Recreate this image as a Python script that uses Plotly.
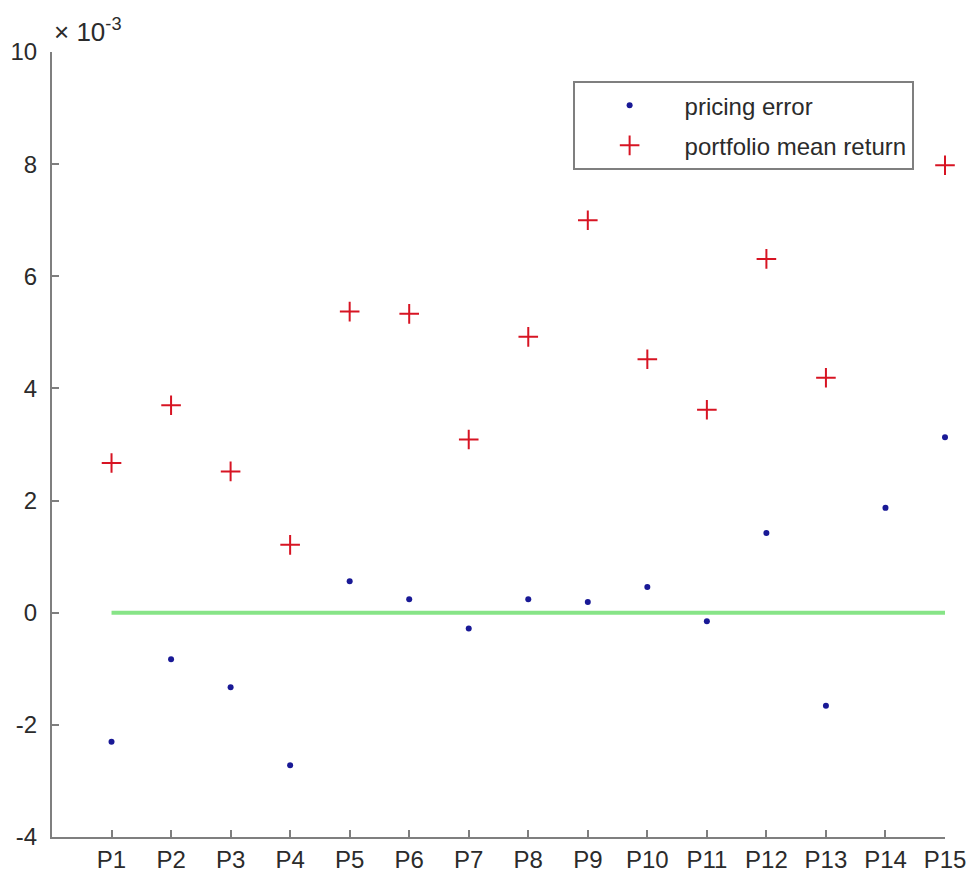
import plotly.graph_objects as go

# Portfolio labels and values (in units of 1e-3)
portfolios = ["P1", "P2", "P3", "P4", "P5", "P6", "P7", "P8",
              "P9", "P10", "P11", "P12", "P13", "P14", "P15"]
pricing_error_e3 = [-2.30, -0.83, -1.33, -2.72, 0.56, 0.24, -0.28, 0.24,
                    0.19, 0.46, -0.15, 1.42, -1.66, 1.87, 3.13]
mean_return_e3 = [2.67, 3.70, 2.52, 1.21, 5.37, 5.33, 3.09, 4.92,
                  7.00, 4.52, 3.62, 6.31, 4.19, 8.70, 7.98]
y_ticks_e3 = [-4, -2, 0, 2, 4, 6, 8, 10]

scale = 1e-3
x_pos = list(range(1, len(portfolios) + 1))
pricing_error = [v * scale for v in pricing_error_e3]
mean_return = [v * scale for v in mean_return_e3]
zero_line = [0.0 for _ in portfolios]

FONT = "Liberation Sans, Arial, sans-serif"
AXIS_GREY = "#7f7f7f"
TEXT = "#2b2b2b"

fig = go.Figure()

fig.add_trace(go.Scatter(
    x=x_pos, y=zero_line, mode="lines",
    line=dict(color="rgb(135,228,135)", width=4),
    showlegend=False, hoverinfo="skip", cliponaxis=False,
))

fig.add_trace(go.Scatter(
    x=x_pos, y=pricing_error, mode="markers", name="pricing error",
    legendgroup="a", cliponaxis=False,
    marker=dict(symbol="circle", size=6, color="rgb(25,25,150)"),
))

fig.add_trace(go.Scatter(
    x=x_pos, y=mean_return, mode="markers", name="portfolio mean return",
    legendgroup="b", cliponaxis=False,
    marker=dict(symbol="cross-thin", size=14,
                line=dict(color="rgb(215,20,35)", width=2)),
))

fig.update_layout(
    width=972, height=886,
    margin=dict(l=52, r=27, t=52, b=49, autoexpand=False),
    paper_bgcolor="white", plot_bgcolor="white",
    font=dict(family=FONT, size=24, color=TEXT),
    legend=dict(
        x=0.583, y=0.963, xanchor="left", yanchor="top",
        bgcolor="white", bordercolor=AXIS_GREY, borderwidth=2,
        font=dict(family=FONT, size=24, color=TEXT),
        itemwidth=100, tracegroupgap=6,
    ),
    xaxis=dict(
        range=[0, 15], tickmode="array", tickvals=x_pos, ticktext=portfolios,
        showgrid=False, zeroline=False, automargin=False,
        showline=True, linecolor=AXIS_GREY, linewidth=2, mirror=False,
        ticks="inside", ticklen=7, tickwidth=1.5, tickcolor=AXIS_GREY,
        tickfont=dict(family=FONT, size=24, color=TEXT),
    ),
    yaxis=dict(
        range=[-4 * scale, 10 * scale], tickmode="array",
        tickvals=[t * scale for t in y_ticks_e3],
        ticktext=[str(t) for t in y_ticks_e3],
        showgrid=False, zeroline=False, automargin=False,
        showline=True, linecolor=AXIS_GREY, linewidth=2, mirror=False,
        ticks="inside", ticklen=7, tickwidth=1.5, tickcolor=AXIS_GREY,
        ticklabelstandoff=8,
        tickfont=dict(family=FONT, size=24, color=TEXT),
    ),
)

# Exponent label above the y axis
fig.add_annotation(
    x=0, y=1, xref="paper", yref="paper", xanchor="left", yanchor="bottom",
    xshift=0, yshift=3, showarrow=False,
    text="× 10<sup>-3</sup>",
    font=dict(family=FONT, size=26, color=TEXT),
)

fig.write_html("out.html")
